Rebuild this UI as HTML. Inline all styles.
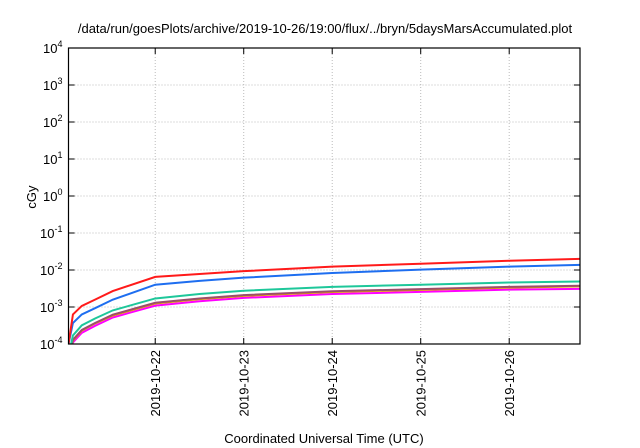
<!DOCTYPE html>
<html><head><meta charset="utf-8"><style>
body{margin:0;background:#fff}
svg{display:block;font-family:"Liberation Sans",sans-serif}
</style></head><body>
<svg id="c" width="640" height="448" xmlns="http://www.w3.org/2000/svg">
<text x="325" y="33" font-size="13" text-anchor="middle">/data/run/goesPlots/archive/2019-10-26/19:00/flux/../bryn/5daysMarsAccumulated.plot</text>
<text transform="translate(36,197) rotate(-90)" font-size="13" text-anchor="middle">cGy</text>
<text x="324" y="443" font-size="13" text-anchor="middle">Coordinated Universal Time (UTC)</text>
<g id="grid"></g><g id="series"></g><g id="axes"></g>
</svg>
<script>
const xTickDays=[22,23,24,25,26];
const xTickLabels=["2019-10-22","2019-10-23","2019-10-24","2019-10-25","2019-10-26"];
const yTickExps=[-4,-3,-2,-1,0,1,2,3,4];
const days=[21.02,21.07,21.17,21.32,21.52,22,22.5,23,24,25,26,26.8];
const red=[1e-4,6.3e-4,1.07e-3,1.58e-3,2.7e-3,6.5e-3,7.8e-3,9.3e-3,1.23e-2,1.48e-2,1.78e-2,2e-2];
const blue=[1e-4,3.7e-4,6.3e-4,9.3e-4,1.58e-3,4e-3,5.1e-3,6.2e-3,8.3e-3,1.02e-2,1.23e-2,1.38e-2];
const green=[4.6e-5,1.7e-4,3.2e-4,4.9e-4,8.1e-4,1.7e-3,2.24e-3,2.75e-3,3.5e-3,4e-3,4.6e-3,4.9e-3];
const orange=[3.4e-5,1.24e-4,2.3e-4,3.6e-4,5.9e-4,1.24e-3,1.63e-3,2e-3,2.55e-3,2.9e-3,3.35e-3,3.6e-3];
const brown=[3.5e-5,1.3e-4,2.4e-4,3.7e-4,6.2e-4,1.3e-3,1.7e-3,2.1e-3,2.66e-3,3.05e-3,3.5e-3,3.75e-3];
const magenta=[2.9e-5,1.1e-4,2e-4,3.1e-4,5.2e-4,1.09e-3,1.43e-3,1.76e-3,2.24e-3,2.56e-3,2.94e-3,3.1e-3];
const L=68.5,R=580,T=48,B=344,D0=21.02,D1=26.8;
const xs=d=>L+(d-D0)/(D1-D0)*(R-L);
const ys=v=>B-(Math.log10(v)+4)/8*(B-T);
const NS="http://www.w3.org/2000/svg";
function mk(tag,attrs,parent){const e=document.createElementNS(NS,tag);for(const k in attrs)e.setAttribute(k,attrs[k]);parent.appendChild(e);return e;}
const grid=document.getElementById('grid'),axes=document.getElementById('axes'),ser=document.getElementById('series');
yTickExps.forEach(e=>{const y=ys(Math.pow(10,e));
 if(e>-4&&e<4){const g=mk('line',{x1:L,x2:R,y1:y,y2:y,stroke:'#bbb','stroke-dasharray':'1,2'},grid);
 
 }
 mk('line',{x1:L,x2:L+6,y1:y,y2:y,stroke:'#000'},axes);mk('line',{x1:R,x2:R-6,y1:y,y2:y,stroke:'#000'},axes);
 const t=mk('text',{x:L-6,y:y+5,'font-size':13,'text-anchor':'end'},axes);
 
 
 t.innerHTML='10<tspan dy="-6" font-size="9">'+e+'</tspan>';});
xTickDays.forEach((d,i)=>{const x=xs(d);
 const g=mk('line',{x1:x,x2:x,y1:T,y2:B,stroke:'#bbb','stroke-dasharray':'1,2'},grid);
 
 
 mk('line',{x1:x,x2:x,y1:B,y2:B-6,stroke:'#000'},axes);mk('line',{x1:x,x2:x,y1:T,y2:T+6,stroke:'#000'},axes);
 const t=mk('text',{transform:`translate(${x+5},350) rotate(-90)`,'font-size':13,'text-anchor':'end'},axes);
 
 
 t.textContent=xTickLabels[i];});
const fr=mk('rect',{x:L,y:T,width:R-L,height:B-T,fill:'none',stroke:'#000','stroke-width':1.2},axes);


const cp=mk('clipPath',{id:'cp'},document.getElementById('c'));
mk('rect',{x:L,y:T,width:R-L,height:B-T},cp);
ser.setAttribute('clip-path','url(#cp)');
[[magenta,'#ff00ff','series-magenta'],[orange,'#e6a000','series-orange'],[brown,'#9a4e6a','series-brown'],[green,'#1ec79a','series-green'],[blue,'#1e6ef0','series-blue'],[red,'#ff1a1a','series-red']].forEach(([arr,c,n])=>{
 const p=mk('polyline',{points:arr.map((v,i)=>xs(days[i])+','+ys(v)).join(' '),fill:'none',stroke:c,'stroke-width':2},ser);
 
 });
</script>
</body></html>
